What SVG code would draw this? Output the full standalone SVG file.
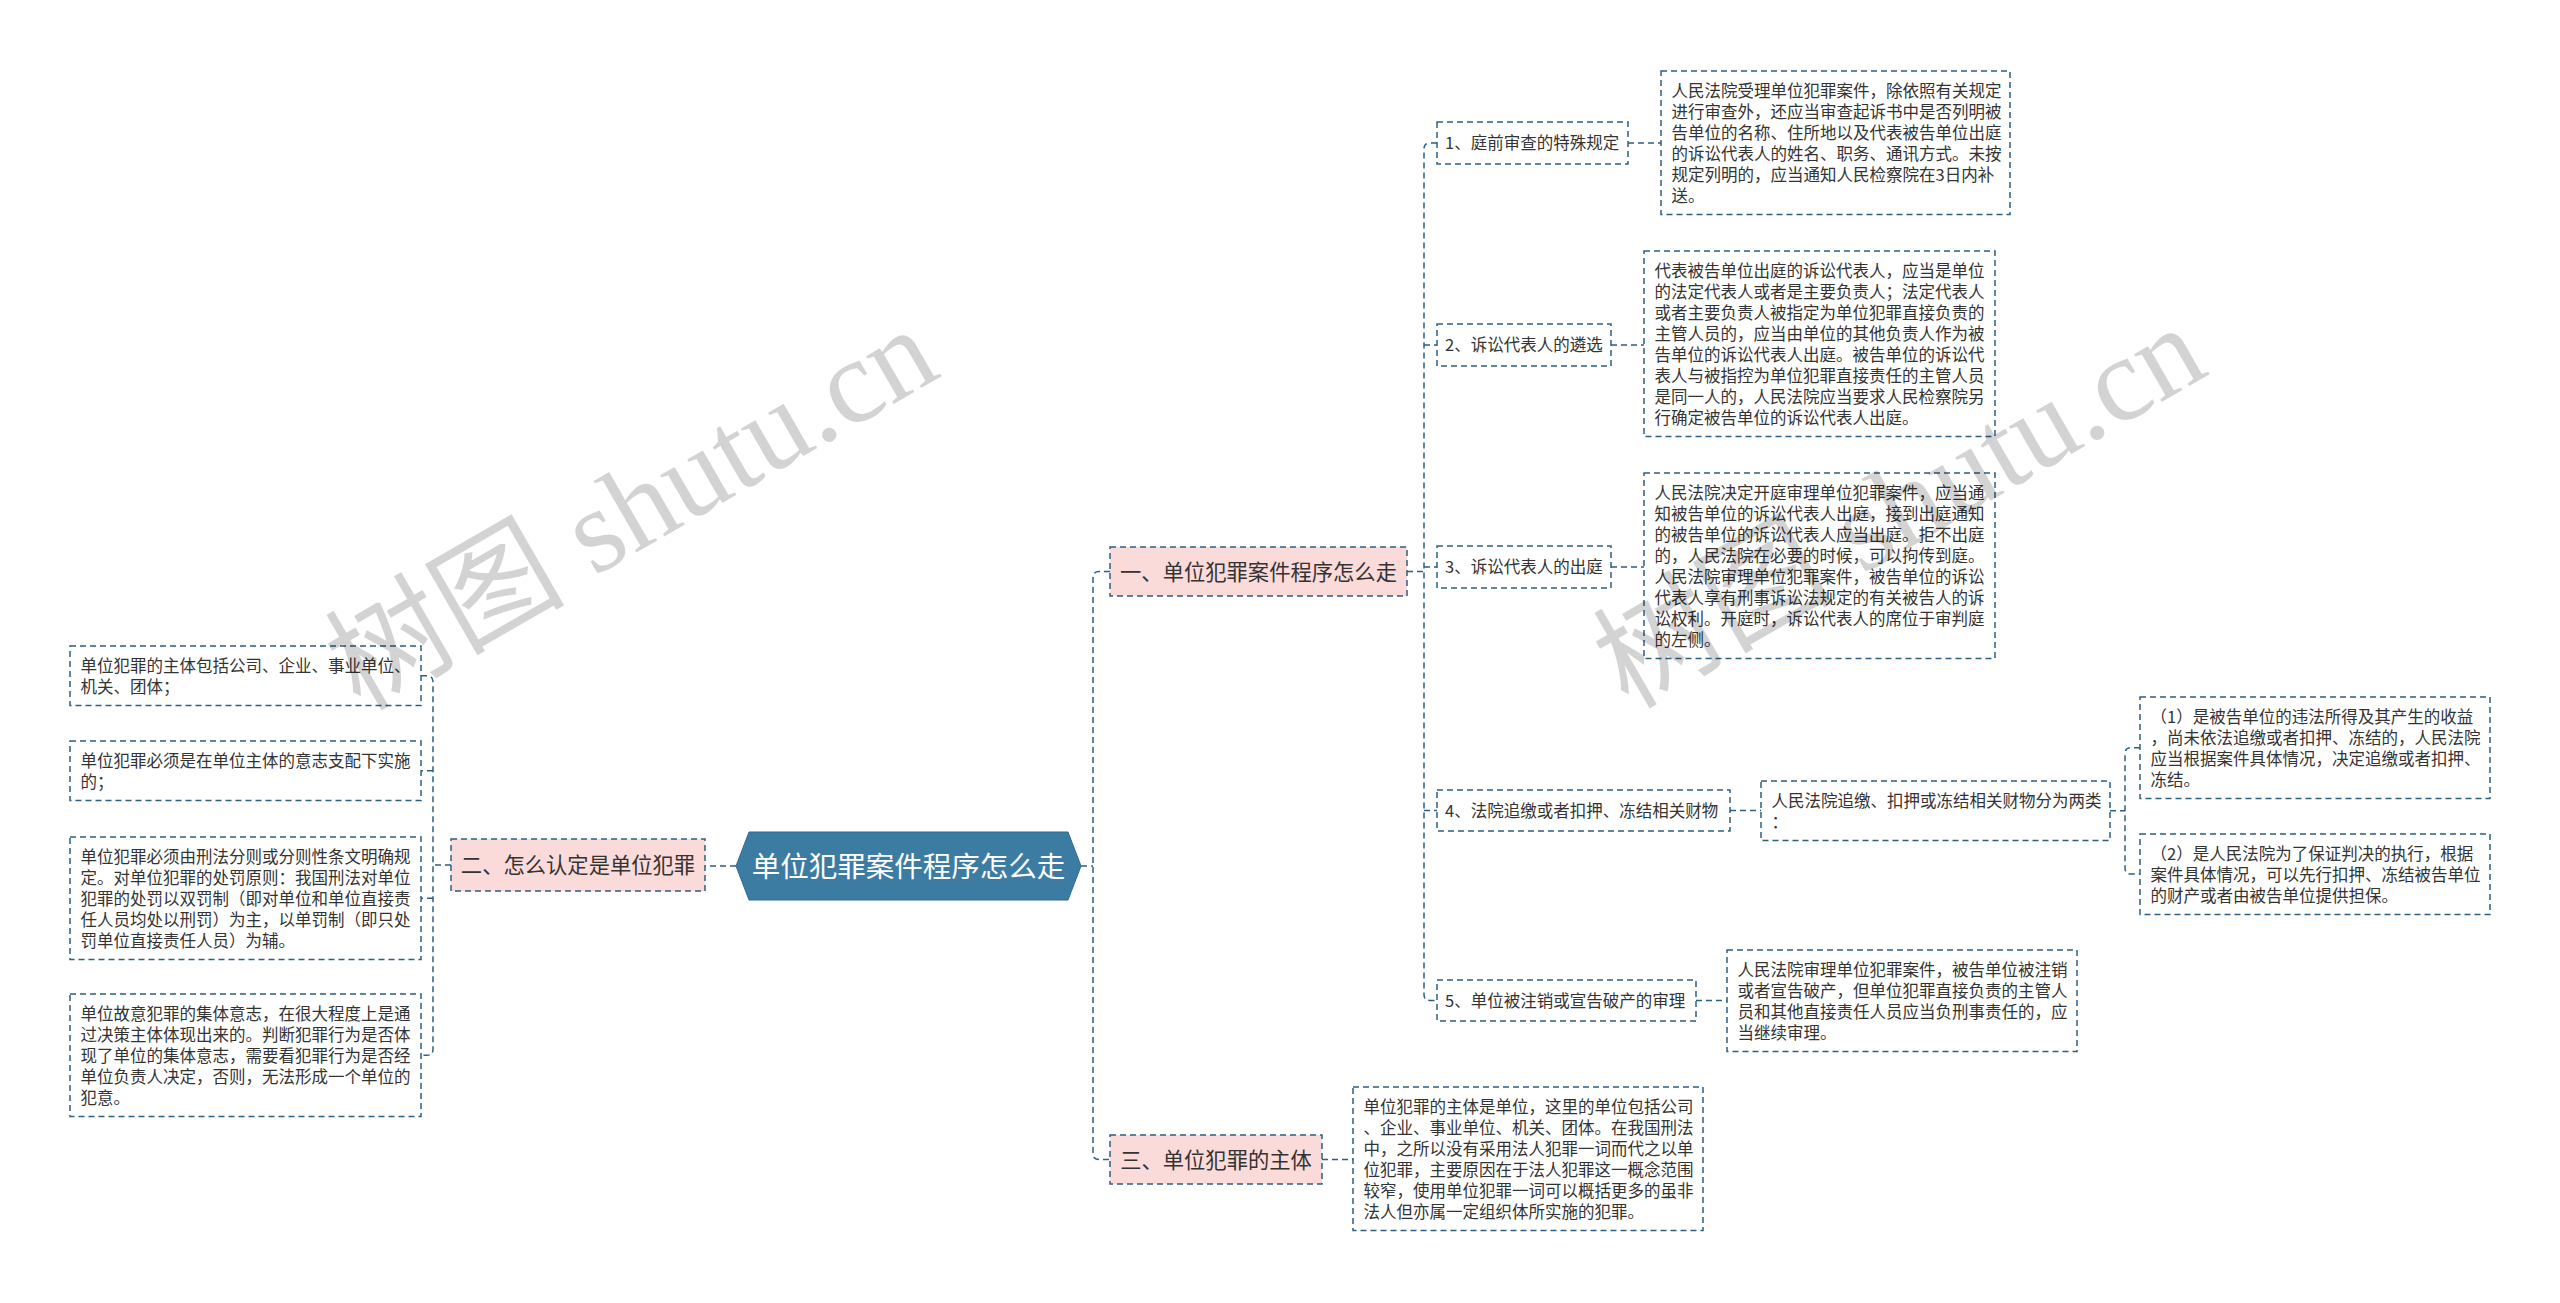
<svg xmlns="http://www.w3.org/2000/svg" width="2560" height="1303" viewBox="0 0 2560 1303">
<style>
.bg{fill:#ffffff}
.box{fill:#ffffff;stroke:#2d6080;stroke-width:1.5;stroke-dasharray:6 4}
.br{fill:#fbdbda;stroke:#2d6080;stroke-width:1.5;stroke-dasharray:6 4}
.hex{fill:#3c7ca3;stroke:#2f6a8e;stroke-width:1}
.t{font-family:"Noto Sans CJK SC","Noto Sans",sans-serif;font-size:16.5px;fill:#333333}
.bt{font-family:"Noto Sans CJK SC","Noto Sans",sans-serif;font-size:21.3px;fill:#333333;text-anchor:middle}
.ht{font-family:"Noto Sans CJK SC","Noto Sans",sans-serif;font-size:28.5px;fill:#ffffff;text-anchor:middle}
.conn{fill:none;stroke:#2d6080;stroke-width:1.5;stroke-dasharray:6 4}
.wm{font-family:"Liberation Serif","Noto Sans CJK SC",serif;font-size:120px;fill:#000000;opacity:0.17}
</style>
<rect class="bg" x="0" y="0" width="2560" height="1303"/>
<g id="connectors">
<path class="conn" d="M1081,866 H1093"/>
<path class="conn" d="M1110,571.5 H1099 Q1093,571.5 1093,577.5 V1153.5 Q1093,1159.5 1099,1159.5 H1110"/>
<path class="conn" d="M736,866 H705"/>
<path class="conn" d="M451,865 H433"/>
<path class="conn" d="M421,675.75 H427 Q433,675.75 433,681.75 V1049.25 Q433,1055.25 427,1055.25 H421"/>
<path class="conn" d="M433,770.75 H421"/>
<path class="conn" d="M433,898.25 H421"/>
<path class="conn" d="M1407,571.5 H1424"/>
<path class="conn" d="M1437,143 H1430 Q1424,143 1424,149 V994.5 Q1424,1000.5 1430,1000.5 H1437"/>
<path class="conn" d="M1424,345 H1437"/>
<path class="conn" d="M1424,567 H1437"/>
<path class="conn" d="M1424,810.5 H1437"/>
<path class="conn" d="M1628,143 H1661"/>
<path class="conn" d="M1611,345 H1644"/>
<path class="conn" d="M1611,567 H1644"/>
<path class="conn" d="M1730,810.5 H1761"/>
<path class="conn" d="M1696,1000.5 H1727"/>
<path class="conn" d="M2110,810.75 H2125"/>
<path class="conn" d="M2140,747.75 H2131 Q2125,747.75 2125,753.75 V868 Q2125,874 2131,874 H2140"/>
<path class="conn" d="M1322,1159.5 H1353"/>
</g>
<g id="root">
<polygon class="hex" points="736,866 749,832 1068,832 1081,866 1068,900 749,900"/>
<text class="ht" x="908.5" y="876.8">单位犯罪案件程序怎么走</text>
</g>
<g id="branch1">
<rect class="br" x="1110" y="547" width="297" height="49"/>
<text class="bt" x="1258.5" y="579.6">一、单位犯罪案件程序怎么走</text>
</g>
<g id="branch2">
<rect class="br" x="451" y="839" width="254" height="52"/>
<text class="bt" x="578" y="873.1">二、怎么认定是单位犯罪</text>
</g>
<g id="branch3">
<rect class="br" x="1110" y="1135" width="212" height="49"/>
<text class="bt" x="1216" y="1167.6">三、单位犯罪的主体</text>
</g>
<g id="item1">
<rect class="box" x="1437" y="122" width="191" height="42"/>
<text class="t" x="1445" y="149.3">1、庭前审查的特殊规定</text>
</g>
<g id="item2">
<rect class="box" x="1437" y="324" width="174" height="42"/>
<text class="t" x="1445" y="351.3">2、诉讼代表人的遴选</text>
</g>
<g id="item3">
<rect class="box" x="1437" y="546" width="174" height="42"/>
<text class="t" x="1445" y="573.3">3、诉讼代表人的出庭</text>
</g>
<g id="item4">
<rect class="box" x="1437" y="790" width="293" height="41"/>
<text class="t" x="1445" y="816.8">4、法院追缴或者扣押、冻结相关财物</text>
</g>
<g id="item5">
<rect class="box" x="1437" y="980" width="259" height="41"/>
<text class="t" x="1445" y="1006.8">5、单位被注销或宣告破产的审理</text>
</g>
<g id="text1">
<rect class="box" x="1661" y="71" width="349" height="143.5"/>
<text class="t"><tspan x="1671.5" y="96.5">人民法院受理单位犯罪案件，除依照有关规定</tspan><tspan x="1671.5" y="117.5">进行审查外，还应当审查起诉书中是否列明被</tspan><tspan x="1671.5" y="138.5">告单位的名称、住所地以及代表被告单位出庭</tspan><tspan x="1671.5" y="159.5">的诉讼代表人的姓名、职务、通讯方式。未按</tspan><tspan x="1671.5" y="180.5">规定列明的，应当通知人民检察院在3日内补</tspan><tspan x="1671.5" y="201.5">送。</tspan></text>
</g>
<g id="text2">
<rect class="box" x="1644" y="251" width="351" height="185.5"/>
<text class="t"><tspan x="1654.5" y="276.5">代表被告单位出庭的诉讼代表人，应当是单位</tspan><tspan x="1654.5" y="297.5">的法定代表人或者是主要负责人；法定代表人</tspan><tspan x="1654.5" y="318.5">或者主要负责人被指定为单位犯罪直接负责的</tspan><tspan x="1654.5" y="339.5">主管人员的，应当由单位的其他负责人作为被</tspan><tspan x="1654.5" y="360.5">告单位的诉讼代表人出庭。被告单位的诉讼代</tspan><tspan x="1654.5" y="381.5">表人与被指控为单位犯罪直接责任的主管人员</tspan><tspan x="1654.5" y="402.5">是同一人的，人民法院应当要求人民检察院另</tspan><tspan x="1654.5" y="423.5">行确定被告单位的诉讼代表人出庭。</tspan></text>
</g>
<g id="text3">
<rect class="box" x="1644" y="473" width="351" height="185.5"/>
<text class="t"><tspan x="1654.5" y="498.5">人民法院决定开庭审理单位犯罪案件，应当通</tspan><tspan x="1654.5" y="519.5">知被告单位的诉讼代表人出庭，接到出庭通知</tspan><tspan x="1654.5" y="540.5">的被告单位的诉讼代表人应当出庭。拒不出庭</tspan><tspan x="1654.5" y="561.5">的，人民法院在必要的时候，可以拘传到庭。</tspan><tspan x="1654.5" y="582.5">人民法院审理单位犯罪案件，被告单位的诉讼</tspan><tspan x="1654.5" y="603.5">代表人享有刑事诉讼法规定的有关被告人的诉</tspan><tspan x="1654.5" y="624.5">讼权利。开庭时，诉讼代表人的席位于审判庭</tspan><tspan x="1654.5" y="645.5">的左侧。</tspan></text>
</g>
<g id="text4">
<rect class="box" x="1761" y="781" width="349" height="59.5"/>
<text class="t"><tspan x="1771.5" y="806.5">人民法院追缴、扣押或冻结相关财物分为两类</tspan><tspan x="1771.5" y="827.5">：</tspan></text>
</g>
<g id="text4a">
<rect class="box" x="2140" y="697" width="350" height="101.5"/>
<text class="t"><tspan x="2150.5" y="722.5">（1）是被告单位的违法所得及其产生的收益</tspan><tspan x="2150.5" y="743.5">，尚未依法追缴或者扣押、冻结的，人民法院</tspan><tspan x="2150.5" y="764.5">应当根据案件具体情况，决定追缴或者扣押、</tspan><tspan x="2150.5" y="785.5">冻结。</tspan></text>
</g>
<g id="text4b">
<rect class="box" x="2140" y="834" width="350" height="80.5"/>
<text class="t"><tspan x="2150.5" y="859.5">（2）是人民法院为了保证判决的执行，根据</tspan><tspan x="2150.5" y="880.5">案件具体情况，可以先行扣押、冻结被告单位</tspan><tspan x="2150.5" y="901.5">的财产或者由被告单位提供担保。</tspan></text>
</g>
<g id="text5">
<rect class="box" x="1727" y="950" width="350" height="101.5"/>
<text class="t"><tspan x="1737.5" y="975.5">人民法院审理单位犯罪案件，被告单位被注销</tspan><tspan x="1737.5" y="996.5">或者宣告破产，但单位犯罪直接负责的主管人</tspan><tspan x="1737.5" y="1017.5">员和其他直接责任人员应当负刑事责任的，应</tspan><tspan x="1737.5" y="1038.5">当继续审理。</tspan></text>
</g>
<g id="text6">
<rect class="box" x="1353" y="1087" width="350" height="143.5"/>
<text class="t"><tspan x="1363.5" y="1112.5">单位犯罪的主体是单位，这里的单位包括公司</tspan><tspan x="1363.5" y="1133.5">、企业、事业单位、机关、团体。在我国刑法</tspan><tspan x="1363.5" y="1154.5">中，之所以没有采用法人犯罪一词而代之以单</tspan><tspan x="1363.5" y="1175.5">位犯罪，主要原因在于法人犯罪这一概念范围</tspan><tspan x="1363.5" y="1196.5">较窄，使用单位犯罪一词可以概括更多的虽非</tspan><tspan x="1363.5" y="1217.5">法人但亦属一定组织体所实施的犯罪。</tspan></text>
</g>
<g id="left1">
<rect class="box" x="70" y="646" width="351" height="59.5"/>
<text class="t"><tspan x="80.5" y="671.5">单位犯罪的主体包括公司、企业、事业单位、</tspan><tspan x="80.5" y="692.5">机关、团体；</tspan></text>
</g>
<g id="left2">
<rect class="box" x="70" y="741" width="351" height="59.5"/>
<text class="t"><tspan x="80.5" y="766.5">单位犯罪必须是在单位主体的意志支配下实施</tspan><tspan x="80.5" y="787.5">的；</tspan></text>
</g>
<g id="left3">
<rect class="box" x="70" y="837" width="351" height="122.5"/>
<text class="t"><tspan x="80.5" y="862.5">单位犯罪必须由刑法分则或分则性条文明确规</tspan><tspan x="80.5" y="883.5">定。对单位犯罪的处罚原则：我国刑法对单位</tspan><tspan x="80.5" y="904.5">犯罪的处罚以双罚制（即对单位和单位直接责</tspan><tspan x="80.5" y="925.5">任人员均处以刑罚）为主，以单罚制（即只处</tspan><tspan x="80.5" y="946.5">罚单位直接责任人员）为辅。</tspan></text>
</g>
<g id="left4">
<rect class="box" x="70" y="994" width="351" height="122.5"/>
<text class="t"><tspan x="80.5" y="1019.5">单位故意犯罪的集体意志，在很大程度上是通</tspan><tspan x="80.5" y="1040.5">过决策主体体现出来的。判断犯罪行为是否体</tspan><tspan x="80.5" y="1061.5">现了单位的集体意志，需要看犯罪行为是否经</tspan><tspan x="80.5" y="1082.5">单位负责人决定，否则，无法形成一个单位的</tspan><tspan x="80.5" y="1103.5">犯意。</tspan></text>
</g>
<g id="watermarks">
<text class="wm" transform="translate(360,712) rotate(-30)">树图 shutu.cn</text>
<text class="wm" transform="translate(1628,710) rotate(-30)">树图 shutu.cn</text>
</g>
</svg>
